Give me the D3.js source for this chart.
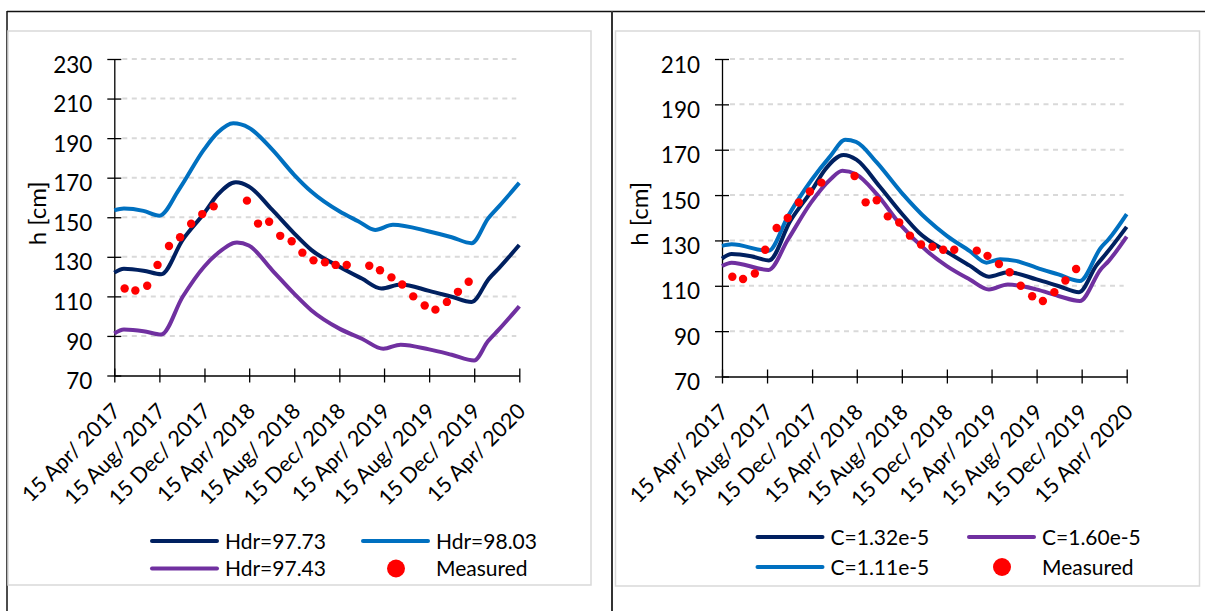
<!DOCTYPE html>
<html>
<head>
<meta charset="utf-8">
<script src="https://cdn.jsdelivr.net/npm/d3@7"></script>
<style>
  html, body { margin: 0; padding: 0; background: #fff; }
  text { font-family: Lato, "Open Sans", sans-serif; fill: #000; }
</style>
</head>
<body>
<div id="chart"></div>
<script>
// tick labels on the date axis
var tickLabels = ["15 Apr/ 2017", "15 Aug/ 2017", "15 Dec/ 2017", "15 Apr/ 2018", "15 Aug/ 2018",
                  "15 Dec/ 2018", "15 Apr/ 2019", "15 Aug/ 2019", "15 Dec/ 2019", "15 Apr/ 2020"];
var tickDates = ["2017-04-15", "2017-08-15", "2017-12-15", "2018-04-15", "2018-08-15",
                 "2018-12-15", "2019-04-15", "2019-08-15", "2019-12-15", "2020-04-15"];
var yTicksLeft = [70, 90, 110, 130, 150, 170, 190, 210, 230];
var yTicksRight = [70, 90, 110, 130, 150, 170, 190, 210];

// measured water levels
var measuredDates = ["2017-05-13", "2017-06-11", "2017-07-13", "2017-08-10", "2017-09-10", "2017-10-10",
                     "2017-11-09", "2017-12-09", "2018-01-09", "2018-04-09", "2018-05-09", "2018-06-08",
                     "2018-07-08", "2018-08-08", "2018-09-06", "2018-10-06", "2018-11-06", "2018-12-05",
                     "2019-01-04", "2019-03-06", "2019-04-04", "2019-05-05", "2019-06-03", "2019-07-03",
                     "2019-08-03", "2019-09-01", "2019-10-02", "2019-11-01", "2019-11-30"];
var measuredH = [114, 113, 115.4, 125.9, 135.5, 139.9, 146.7, 151.6, 155.5, 158.4, 146.8, 147.7,
                 140.6, 137.9, 132.1, 128.2, 127.2, 125.9, 125.9, 125.5, 123.2, 119.6, 116, 110,
                 105.4, 103.3, 107.2, 112.3, 117.4];

// simulated: Hdr=97.73 (same run as C=1.32e-5)
var hdr9773 = [["2017-04-15", 122], ["2017-05-11", 124], ["2017-07-03", 123], ["2017-08-20", 121.2],
               ["2017-10-17", 138.6], ["2017-12-14", 152], ["2018-01-20", 161.4], ["2018-03-10", 167.7],
               ["2018-04-14", 165.6], ["2018-06-16", 153.8], ["2018-08-14", 142], ["2018-09-30", 133.5],
               ["2018-12-15", 125], ["2019-02-14", 119], ["2019-04-08", 114], ["2019-05-30", 116],
               ["2019-08-15", 112.8], ["2019-10-15", 109.8], ["2019-12-08", 107.2], ["2020-01-24", 119],
               ["2020-02-20", 124.3], ["2020-04-15", 136]];
var hdr9803 = [["2017-04-15", 153.5], ["2017-05-11", 154.4], ["2017-07-03", 153.2], ["2017-08-15", 150.8],
               ["2017-10-07", 164], ["2017-12-14", 184.3], ["2018-01-20", 192.8], ["2018-03-03", 197.5],
               ["2018-04-14", 195.3], ["2018-06-16", 184.3], ["2018-08-14", 171.6], ["2018-09-30", 163],
               ["2018-12-15", 153], ["2019-02-04", 148], ["2019-03-22", 143.6], ["2019-05-09", 146.2],
               ["2019-08-15", 142.8], ["2019-10-15", 139.9], ["2019-12-08", 136.9], ["2020-01-22", 149.5],
               ["2020-02-20", 155.5], ["2020-04-15", 167.4]];
var hdr9743 = [["2017-04-15", 91.2], ["2017-05-11", 93.2], ["2017-07-03", 92.4], ["2017-08-20", 90.7],
               ["2017-10-17", 109.8], ["2017-12-14", 125], ["2018-01-20", 131.8], ["2018-03-13", 137.2],
               ["2018-04-14", 135.7], ["2018-06-16", 123.3], ["2018-08-14", 111.5], ["2018-09-30", 103],
               ["2018-12-15", 93.7], ["2019-02-14", 88.6], ["2019-04-13", 83.5], ["2019-05-30", 85.6],
               ["2019-08-15", 83.2], ["2019-10-15", 80.5], ["2019-12-15", 77.6], ["2020-01-21", 87.3],
               ["2020-02-20", 93.3], ["2020-04-15", 105]];
var c111 = [["2017-04-15", 127.6], ["2017-05-11", 128.3], ["2017-08-19", 125.4], ["2017-10-11", 140.8],
            ["2017-12-12", 156.3], ["2018-02-03", 167.3], ["2018-03-15", 174.4], ["2018-04-13", 173.5],
            ["2018-06-08", 164.4], ["2018-08-14", 151.1], ["2018-10-22", 139.3], ["2018-12-15", 132],
            ["2019-02-15", 125.3], ["2019-04-01", 120.2], ["2019-05-08", 121.7], ["2019-06-20", 121],
            ["2019-08-14", 118], ["2019-10-13", 115], ["2019-12-10", 112.1], ["2020-02-05", 126.8],
            ["2020-02-26", 130.5], ["2020-04-15", 141.6]];
var c160 = [["2017-04-15", 118.7], ["2017-05-11", 120.2], ["2017-08-19", 117], ["2017-10-11", 130.5],
            ["2017-12-12", 146.7], ["2018-02-03", 157], ["2018-03-07", 160.7], ["2018-04-13", 159.2],
            ["2018-06-08", 150.4], ["2018-08-14", 136.4], ["2018-10-22", 125.3], ["2018-12-15", 118.7],
            ["2019-02-15", 112.8], ["2019-04-08", 108.4], ["2019-05-29", 110.6], ["2019-08-14", 108.4],
            ["2019-10-13", 105.5], ["2019-12-10", 103.3], ["2020-02-05", 117.3], ["2020-02-26", 120.9],
            ["2020-04-15", 131.7]];

var navy = "#002060", blue = "#0070c0", purple = "#7030a0", red = "#ff0000";
var parse = d3.timeParse("%Y-%m-%d");
var measured = measuredDates.map(function(d, i){ return [d, measuredH[i]]; });

var svg = d3.select("#chart").append("svg").attr("width", 1205).attr("height", 611);

// page frame lines
svg.append("line").attr("x1", 7).attr("x2", 1205).attr("y1", 11.5).attr("y2", 11.5)
   .attr("stroke", "#111").attr("stroke-width", 1.5);
svg.append("line").attr("x1", 7).attr("x2", 7).attr("y1", 11).attr("y2", 611)
   .attr("stroke", "#111").attr("stroke-width", 1.5);
svg.append("line").attr("x1", 612).attr("x2", 612).attr("y1", 11).attr("y2", 611)
   .attr("stroke", "#333").attr("stroke-width", 2);

function panel(o) {
    svg.append("rect").attr("x", o.box[0]).attr("y", o.box[1]).attr("width", o.box[2]).attr("height", o.box[3])
       .attr("fill", "#fff").attr("stroke", "#d9d9d9").attr("stroke-width", 1.5);

    var x = d3.scaleTime().domain([parse(tickDates[0]), parse(tickDates[tickDates.length - 1])]).range([o.x0, o.x1]);
    var y = d3.scaleLinear().domain([70, o.yTicks[o.yTicks.length - 1]]).range([o.y1, o.y0]);
    var g = svg.append("g");

    // dashed gridlines
    g.selectAll(".grid").data(o.yTicks.slice(1)).enter().append("line")
        .attr("x1", o.x0 + 8).attr("x2", o.x1 - 3)
        .attr("y1", function(d){ return y(d); }).attr("y2", function(d){ return y(d); })
        .attr("stroke", "#d9d9d9").attr("stroke-width", 2).attr("stroke-dasharray", "5,4.5");

    // y axis
    var ya = g.append("g").attr("transform", "translate(" + o.x0 + ",0)")
        .call(d3.axisLeft(y).tickValues(o.yTicks).tickSize(7).tickSizeOuter(0).tickPadding(15));
    ya.attr("color", "#000");
    ya.select(".domain").attr("stroke-width", 1.3);
    ya.selectAll(".tick line").attr("x1", 7).attr("stroke-width", 1.3);
    ya.selectAll(".tick text").attr("font-family", "Lato").attr("font-size", 22.5)
        .attr("y", 5).attr("dy", "0.36em").style("fill", "#000");

    // x axis
    var xa = g.append("g").attr("transform", "translate(0," + o.y1 + ")")
        .call(d3.axisBottom(x).tickValues(tickDates.map(parse)).tickSize(7).tickSizeOuter(0)
              .tickFormat(function(d, i){ return tickLabels[i]; }));
    xa.attr("color", "#000");
    xa.select(".domain").attr("stroke-width", 1.3);
    xa.selectAll(".tick line").attr("y1", -7).attr("stroke-width", 1.3);
    xa.selectAll(".tick text").attr("font-family", "Lato").attr("font-size", 21.5)
        .attr("text-anchor", "end").attr("x", 0).attr("y", 0).attr("dy", 0)
        .attr("transform", "translate(7,37) rotate(-45)").style("fill", "#000");

    // axis title
    g.append("text").attr("transform", "translate(" + o.titleX + "," + ((o.y0 + o.y1) / 2 - 4) + ") rotate(-90)")
        .attr("text-anchor", "middle").attr("font-size", 24).text("h [cm]");

    // simulated lines
    var line = d3.line().x(function(d){ return x(parse(d[0])); }).y(function(d){ return y(d[1]); })
        .curve(d3.curveMonotoneX);
    o.series.forEach(function(s){
        g.append("path").datum(s.data).attr("d", line).attr("fill", "none")
            .attr("stroke", s.color).attr("stroke-width", 4).attr("stroke-linejoin", "round");
    });

    // measured points
    g.selectAll(".pt").data(measured).enter().append("circle")
        .attr("cx", function(d){ return x(parse(d[0])); }).attr("cy", function(d){ return y(d[1]); })
        .attr("r", 4.2).attr("fill", red);

    // legend
    o.legend.forEach(function(l){
        if (l.dot) {
            g.append("circle").attr("cx", l.x + 33).attr("cy", l.y).attr("r", 9).attr("fill", red);
        } else {
            g.append("line").attr("x1", l.x).attr("x2", l.x + 65).attr("y1", l.y).attr("y2", l.y)
                .attr("stroke", l.color).attr("stroke-width", 4).attr("stroke-linecap", "round");
        }
        g.append("text").attr("x", l.x + 73).attr("y", l.y).attr("dy", "0.36em")
            .attr("font-size", 21).text(l.label);
    });
}

panel({
    box: [8, 31, 583, 554],
    x0: 114.3, x1: 519.3, y0: 59, y1: 375.5,
    yTicks: yTicksLeft, titleX: 46,
    series: [{data: hdr9803, color: blue}, {data: hdr9773, color: navy}, {data: hdr9743, color: purple}],
    legend: [
        {x: 152, y: 541, color: navy, label: "Hdr=97.73"},
        {x: 363, y: 541, color: blue, label: "Hdr=98.03"},
        {x: 152, y: 568.5, color: purple, label: "Hdr=97.43"},
        {x: 363, y: 568.5, dot: true, label: "Measured"}
    ]
});

panel({
    box: [615.5, 31, 584, 555],
    x0: 722, x1: 1126.7, y0: 59, y1: 376.5,
    yTicks: yTicksRight, titleX: 648,
    series: [{data: c111, color: blue}, {data: hdr9773, color: navy}, {data: c160, color: purple}],
    legend: [
        {x: 757.5, y: 537, color: navy, label: "C=1.32e-5"},
        {x: 969, y: 537, color: purple, label: "C=1.60e-5"},
        {x: 757.5, y: 567, color: blue, label: "C=1.11e-5"},
        {x: 969, y: 567, dot: true, label: "Measured"}
    ]
});
</script>
</body>
</html>
